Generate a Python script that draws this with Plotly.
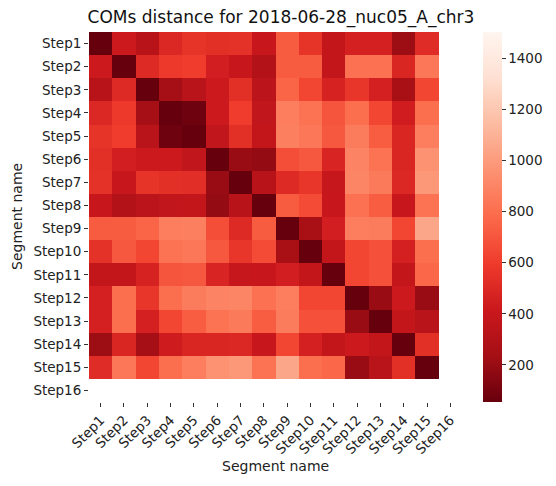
import plotly.graph_objects as go

segments = [f"Step{i}" for i in range(1, 17)]

row_step1 = [55, 420, 320, 500, 560, 540, 550, 400, 720, 560, 380, 460, 460, 210, 520, None]
row_step2 = [420, 55, 510, 590, 600, 450, 400, 300, 720, 720, 380, 810, 810, 490, 840, None]
row_step3 = [320, 510, 55, 236, 330, 420, 540, 340, 760, 640, 470, 570, 460, 250, 640, None]
row_step4 = [500, 590, 236, 55, 75, 420, 600, 370, 870, 820, 700, 800, 640, 440, 800, None]
row_step5 = [560, 600, 330, 75, 55, 370, 540, 380, 880, 840, 710, 860, 730, 490, 870, None]
row_step6 = [540, 450, 420, 420, 370, 55, 200, 190, 670, 710, 480, 890, 820, 490, 960, None]
row_step7 = [550, 400, 560, 540, 530, 200, 55, 320, 510, 570, 390, 900, 850, 500, 980, None]
row_step8 = [400, 300, 340, 370, 380, 190, 320, 55, 720, 660, 400, 810, 730, 400, 820, None]
row_step9 = [720, 720, 760, 870, 880, 670, 510, 720, 55, 250, 450, 870, 860, 640, 1050, None]
row_step10 = [550, 710, 640, 820, 840, 710, 570, 660, 250, 55, 380, 640, 680, 460, 800, None]
row_step11 = [380, 380, 470, 700, 710, 480, 390, 400, 450, 380, 55, 640, 680, 380, 770, None]
row_step12 = [460, 800, 570, 800, 860, 890, 900, 810, 870, 640, 640, 55, 200, 420, 200, None]
row_step13 = [460, 800, 460, 640, 730, 820, 850, 730, 860, 680, 680, 200, 55, 380, 330, None]
row_step14 = [210, 490, 240, 430, 490, 490, 500, 400, 640, 460, 380, 420, 380, 55, 540, None]
row_step15 = [520, 840, 640, 800, 870, 960, 980, 820, 1050, 800, 770, 200, 330, 540, 55, None]
row_step16 = [None] * 16

z = [row_step1, row_step2, row_step3, row_step4, row_step5, row_step6, row_step7,
     row_step8, row_step9, row_step10, row_step11, row_step12, row_step13,
     row_step14, row_step15, row_step16]

cbar_ticks = [200, 400, 600, 800, 1000, 1200, 1400]
zmin, zmax = 55, 1503

reds_r = [
    [0.0, "#67000d"], [0.125, "#a50f15"], [0.25, "#cb181d"], [0.375, "#ef3b2c"],
    [0.5, "#fb6a4a"], [0.625, "#fc9272"], [0.75, "#fcbba1"], [0.875, "#fee0d2"],
    [1.0, "#fff5f0"],
]

FONT = "DejaVu Sans"
FS = 14
TFS = 13.5
W, H = 556, 486
L, R, T, B = 89, 94, 32, 84
pw = W - L - R

fig = go.Figure(go.Heatmap(
    z=z, x=segments, y=segments,
    colorscale=reds_r, zmin=zmin, zmax=zmax,
    hoverongaps=False,
    colorbar=dict(
        thickness=19, len=1, lenmode="fraction", y=0.5, yanchor="middle",
        x=(483 - L) / pw, xanchor="left", xpad=0, ypad=0,
        outlinewidth=0, tickvals=cbar_ticks, ticks="outside", ticklen=4,
        tickcolor="#333", tickfont=dict(family=FONT, size=TFS, color="#222"),
    ),
))

fig.update_layout(
    width=W, height=H,
    margin=dict(l=L, r=R, t=T, b=B),
    paper_bgcolor="white", plot_bgcolor="white",
    font=dict(family=FONT, color="#222"),
    title=dict(text="COMs distance for 2018-06-28_nuc05_A_chr3",
               x=281 / W, xanchor="center", xref="container",
               y=1 - 17 / H, yanchor="middle", yref="container",
               font=dict(family=FONT, size=17, color="#111")),
    xaxis=dict(type="category", range=[-0.5, 15.5], tickangle=-45,
               ticks="outside", ticklen=4, tickcolor="#333",
               showgrid=False, zeroline=False, showline=False,
               tickfont=dict(family=FONT, size=TFS, color="#222")),
    yaxis=dict(type="category", range=[15.5, -0.5],
               ticks="outside", ticklen=4, tickcolor="#333",
               showgrid=False, zeroline=False, showline=False,
               tickfont=dict(family=FONT, size=TFS, color="#222")),
    annotations=[
        dict(text="Segment name", xref="paper", yref="paper", x=0.5,
             y=-(466 - (H - B)) / (H - T - B), xanchor="center", yanchor="middle",
             showarrow=False, font=dict(family=FONT, size=FS, color="#222")),
        dict(text="Segment name", xref="paper", yref="paper",
             x=-(L - 17) / pw, y=1 - (217 - T) / (H - T - B),
             xanchor="center", yanchor="middle", textangle=-90,
             showarrow=False, font=dict(family=FONT, size=FS, color="#222")),
    ],
)

fig.write_html("out.html")
